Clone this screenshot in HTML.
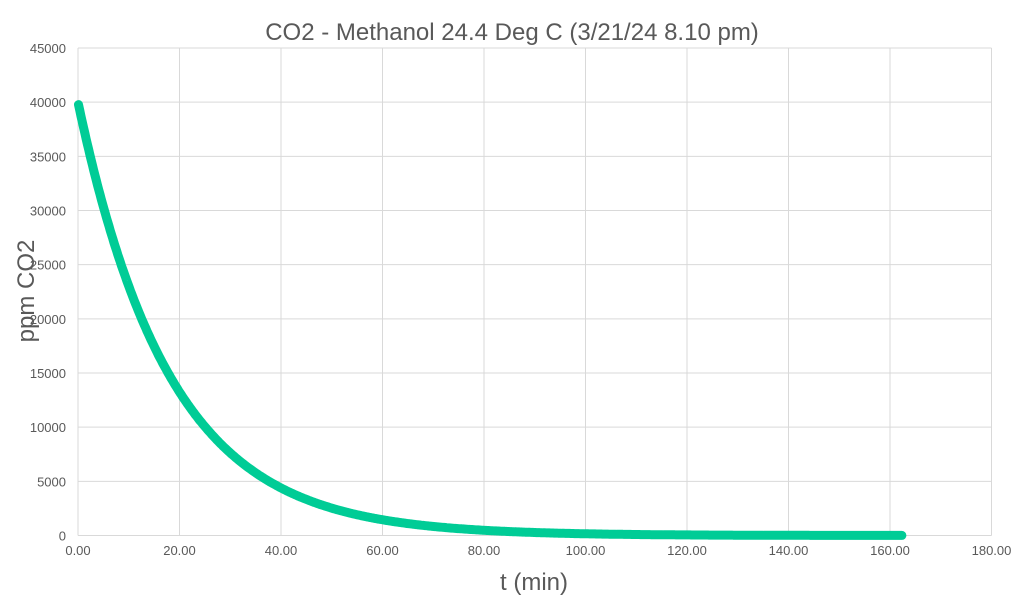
<!DOCTYPE html>
<html><head><meta charset="utf-8"><style>
body{margin:0;background:#fff;}
svg text{font-family:"Liberation Sans",Arial,sans-serif;fill:#595959;}
</style></head><body>
<svg id="s" width="1023" height="601" xmlns="http://www.w3.org/2000/svg">
<rect width="1023" height="601" fill="#fff"/>
<g id="grid" stroke="#d9d9d9" stroke-width="1"></g>
<g id="lab" font-size="13"></g>
<text x="512" y="40" font-size="24" text-anchor="middle">CO2 - Methanol 24.4 Deg C (3/21/24 8.10 pm)</text>
<text x="534" y="590" font-size="24" text-anchor="middle">t (min)</text>
<text transform="translate(34,291) rotate(-90)" font-size="24" text-anchor="middle">ppm CO2</text>
<path id="curve" fill="none" stroke="#00cc96" stroke-width="9" stroke-linecap="round" stroke-linejoin="round"/>
</svg>
<script>
var X0=78,X1=991.5,Y0=535.5,Y1=48;
function px(t){return X0+(X1-X0)*t/180;}
function py(v){return Y0-(Y0-Y1)*v/45000;}
var g=document.getElementById('grid'),l=document.getElementById('lab'),ns='http://www.w3.org/2000/svg';
function el(p,tag,a,txt){var e=document.createElementNS(ns,tag);for(var k in a)e.setAttribute(k,a[k]);if(txt)e.textContent=txt;p.appendChild(e);}
for(var i=0;i<=9;i++){var y=py(i*5000);el(g,'line',{x1:X0,x2:X1,y1:y,y2:y});el(l,'text',{x:66,y:y+5,'text-anchor':'end'},String(i*5000));}
for(var i=0;i<=9;i++){var x=px(i*20);el(g,'line',{x1:x,x2:x,y1:Y1,y2:Y0});el(l,'text',{x:x,y:555,'text-anchor':'middle'},(i*20).toFixed(2));}
var d='';for(var t=0.1;t<=162.5;t+=0.25){var v=40000*Math.exp(-t/18.1);d+=(d?'L':'M')+px(t).toFixed(1)+','+py(v).toFixed(1);}
document.getElementById('curve').setAttribute('d',d);
</script>
</body></html>
